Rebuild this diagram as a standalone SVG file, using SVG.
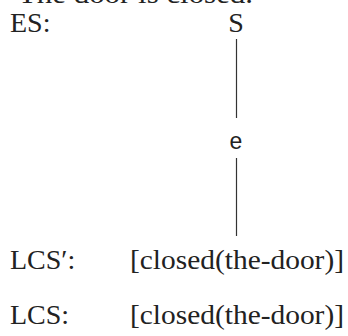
<svg xmlns="http://www.w3.org/2000/svg" width="348" height="336" viewBox="0 0 348 336">
<style>
.t{font-family:"Liberation Serif","Times New Roman",serif;font-size:28px;fill:#222}
.s{font-family:"Liberation Sans",Arial,sans-serif;font-size:23px;fill:#222}
.c{stroke:#333;stroke-width:1.2;fill:none}
</style>
<rect width="348" height="336" fill="#fff"/>
<text class="t" x="18" y="2.5" textLength="235" lengthAdjust="spacingAndGlyphs">The door is closed.</text>
<g id="labels">
<text class="t" x="10" y="32">ES:</text>
<text class="t" x="10" y="269">LCS′:</text>
<text class="t" x="10" y="324">LCS:</text>
</g>
<g id="node-S"><text class="t" x="236" y="32" text-anchor="middle">S</text></g>
<g id="node-e"><text class="s" x="236" y="149" text-anchor="middle">e</text></g>
<g id="node-lcs1"><text class="t" x="130" y="269" textLength="214" lengthAdjust="spacingAndGlyphs">[closed(the-door)]</text></g>
<g id="node-lcs2"><text class="t" x="130" y="324" textLength="214" lengthAdjust="spacingAndGlyphs">[closed(the-door)]</text></g>
<g id="connectors">
<line class="c" x1="236.5" y1="39" x2="236.5" y2="118"/>
<line class="c" x1="236.5" y1="158" x2="236.5" y2="236"/>
</g>
</svg>
